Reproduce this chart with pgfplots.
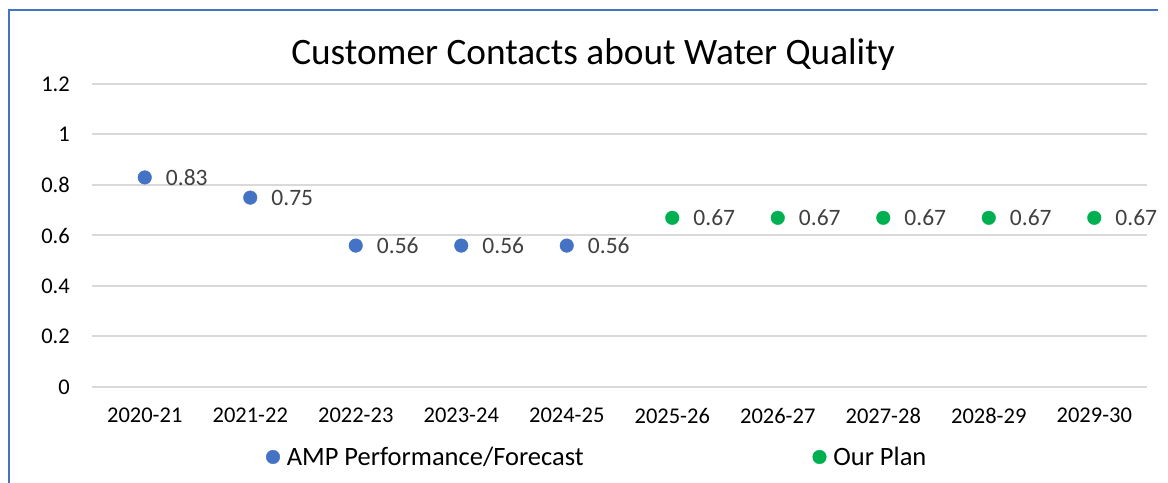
\documentclass[border=0pt]{standalone}
\usepackage{pgfplots}
\pgfplotsset{compat=1.18}
\usepackage{pgfplotstable}
\usepackage{fontspec}
\setmainfont{Carlito}
\definecolor{blueC}{HTML}{4472C4}
\definecolor{greenC}{HTML}{00B050}
\definecolor{gridC}{HTML}{D9D9D9}
\definecolor{labC}{HTML}{404040}

\pgfplotstableread{
x y lab
0 0.83 0.83
1 0.75 0.75
2 0.56 0.56
3 0.56 0.56
4 0.56 0.56
}\amp
\pgfplotstableread{
x y lab
5 0.67 0.67
6 0.67 0.67
7 0.67 0.67
8 0.67 0.67
9 0.67 0.67
}\plan

\begin{document}
\begin{tikzpicture}[x=1bp,y=1bp]
\useasboundingbox (0,0) rectangle (1168,483);
\draw[blueC, line width=2bp] (9,-5) -- (9,473) -- (1158,473);
\node[font=\fontsize{37.3bp}{44bp}\selectfont, anchor=center, inner sep=0pt] at (593,428) {Customer Contacts about Water Quality};
\begin{axis}[
  at={(92bp,96bp)}, anchor=south west,
  scale only axis, width=1055bp, height=303bp,
  xmin=-0.5, xmax=9.5, ymin=0, ymax=1.2,
  xtick={0,...,9},
  xticklabels={2020-21,2021-22,2022-23,2023-24,2024-25,2025-26,2026-27,2027-28,2028-29,2029-30},
  ytick={0,0.2,0.4,0.6,0.8,1,1.2},
  ymajorgrids, grid style={gridC, line width=2bp},
  axis line style={draw=none},
  major tick length=0pt,
  tick label style={font=\fontsize{22.5bp}{27bp}\selectfont, text=black},
  /pgf/number format/assume math mode=true,
  yticklabel style={inner sep=0pt, anchor=east, xshift=-22bp},
  xticklabel style={inner sep=0pt, anchor=north, yshift=-21bp},
  clip=false,
  legend columns=2,
  legend cell align=left,
  legend style={at={(0.478,-0.231)}, anchor=center, draw=none, fill=none,
    font=\fontsize{26.5bp}{32bp}\selectfont, inner sep=0pt,
    nodes={inner sep=0pt},
    /tikz/every odd column/.append style={column sep=7bp},
    /tikz/every even column/.append style={column sep=229bp}},
  legend image code/.code={\draw[#1] plot coordinates {(7bp,0bp)};},
  nodes near coords,
  point meta=explicit symbolic,
  every node near coord/.append style={anchor=west, inner sep=0pt, xshift=21bp,
    font=\fontsize{23.5bp}{28bp}\selectfont, text=labC},
]
\addplot[only marks, mark=*, mark size=6.8bp, blueC, mark options={draw=none, fill=blueC}] table[x=x, y=y, meta=lab] {\amp};
\addlegendentry{AMP Performance/Forecast}
\addplot[only marks, mark=*, mark size=6.8bp, greenC, mark options={draw=none, fill=greenC}] table[x=x, y=y, meta=lab] {\plan};
\addlegendentry{Our Plan}
\end{axis}
\end{tikzpicture}
\end{document}
